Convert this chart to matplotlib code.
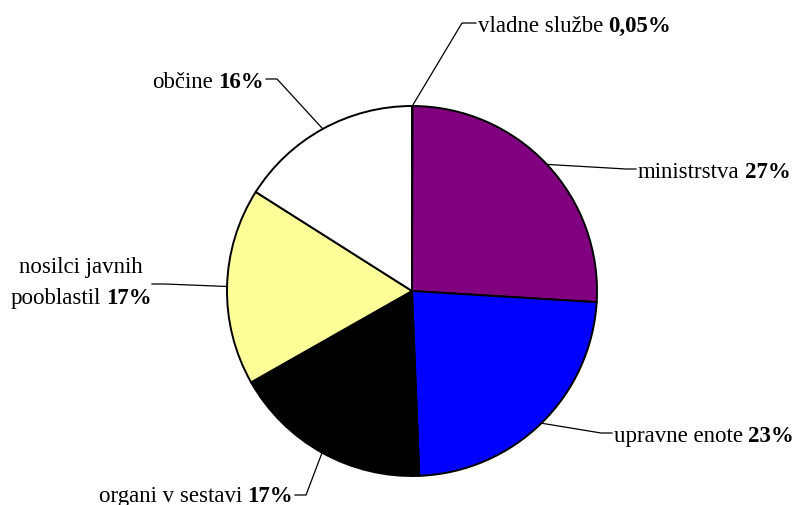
import numpy as np
import matplotlib.pyplot as plt

# slice data, clockwise from the top
names = ['vladne službe', 'ministrstva', 'upravne enote', 'organi v sestavi',
         'nosilci javnih\npooblastil', 'občine']
shares = [0.05, 25.9, 23.4, 17.4, 17.2, 16.0]
pct_labels = ['0,05%', '27%', '23%', '17%', '17%', '16%']
colors = ['#9999FF', '#800080', '#0000FF', '#000000', '#FFFF99', '#FFFFFF']

plt.rcParams['font.family'] = ['Liberation Serif', 'DejaVu Serif']
FS = 16.5
W, H = 797, 506

fig = plt.figure(figsize=(W / 100, H / 100), dpi=100)
ax = fig.add_axes([0, 0, 1, 1])

cx, cy, r = 412, H - 292, 185
wedges, _ = ax.pie(shares, colors=colors, startangle=90, counterclock=False,
                   center=(cx, cy), radius=r,
                   wedgeprops=dict(edgecolor='black', linewidth=1.4))
ax.set_xlim(0, W)
ax.set_ylim(0, H)
ax.set_aspect('equal')
ax.axis('off')

renderer = fig.canvas.get_renderer()
gap = 0.22 * FS * 100 / 72


def text_width(s, weight):
    t = ax.text(0, 0, s, fontsize=FS, fontweight=weight)
    w = t.get_window_extent(renderer).width
    t.remove()
    return w


def rich_line(x, y, normal, bold, ha):
    # normal text followed by bold percentage, aligned as a unit
    w1 = text_width(normal, 'normal') if normal else 0
    w2 = text_width(bold, 'bold')
    total = w1 + (gap if normal else 0) + w2
    if ha == 'left':
        x0 = x
    elif ha == 'right':
        x0 = x - total
    else:
        x0 = x - total / 2
    if normal:
        ax.text(x0, y, normal, fontsize=FS, va='center', ha='left')
        x0 += w1 + gap
    ax.text(x0, y, bold, fontsize=FS, va='center', ha='left', fontweight='bold')


# label layout in pixels from top: text anchor, alignment, elbow, tip
layout = [
    ((478, 26), 'left', (462, 24), (476, 24)),
    ((638, 172), 'left', (626, 170), (636, 170)),
    ((614, 437), 'left', (601, 434), (612, 434)),
    ((293, 497), 'right', (306, 496), (295, 496)),
    ((81, 283), 'center', (165, 285), (152, 285)),
    ((264, 82), 'right', (277, 80), (266, 80)),
]

for w, name, pct, (txy, ha, elbow, tip) in zip(wedges, names, pct_labels, layout):
    mid = np.deg2rad((w.theta1 + w.theta2) / 2)
    ex, ey = cx + r * np.cos(mid), cy + r * np.sin(mid)
    ax.plot([ex, elbow[0], tip[0]], [ey, H - elbow[1], H - tip[1]],
            color='black', lw=0.9, zorder=3)
    lines = name.split('\n')
    if len(lines) == 1:
        rich_line(txy[0], H - txy[1], lines[0], pct, ha)
    else:
        step = 31
        y0 = H - txy[1] + step / 2
        for i, ln in enumerate(lines[:-1]):
            ax.text(txy[0], y0 - i * step, ln, fontsize=FS, va='center', ha='center')
        rich_line(txy[0], y0 - (len(lines) - 1) * step, lines[-1], pct, ha)

fig.savefig('out.png', dpi=100)
